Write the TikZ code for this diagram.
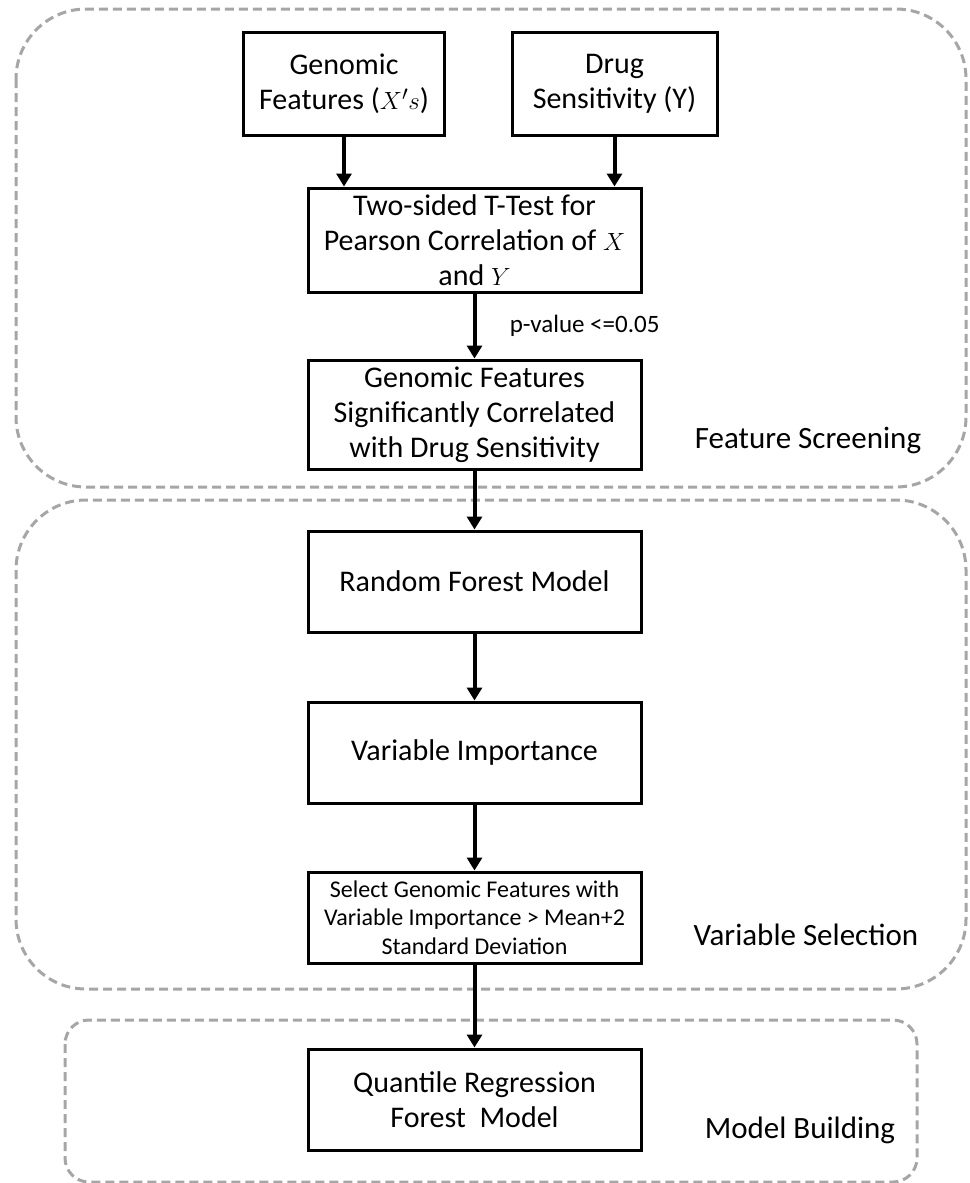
\documentclass[tikz,border=0pt]{standalone}
\usepackage{fontspec}
\setmainfont{Carlito}
\usepackage{tikz}
\usetikzlibrary{arrows.meta}

\begin{document}
\begin{tikzpicture}[x=1pt, y=-1pt,
  box/.style={draw, line width=3pt, inner sep=0pt, minimum width=333pt, minimum height=101pt,
    align=center, font=\fontsize{30}{35}\selectfont},
  region/.style={draw=black!35, line width=3pt, dash pattern=on 9pt off 5pt},
  lbl/.style={font=\fontsize{31}{36}\selectfont},
  arr/.style={line width=4pt, -{Triangle[length=13pt,width=15pt]}}]
  \useasboundingbox (0,0) rectangle (969,1183);

  % stages
  \draw[region, rounded corners=70pt] (16,9) rectangle (966,487);
  \draw[region, rounded corners=70pt] (16,500) rectangle (966,989);
  \draw[region, rounded corners=24pt] (65,1020) rectangle (917,1182);

  \node[lbl] (fs) at (808,440) {Feature Screening};
  \node[lbl] (vs) at (806,935) {Variable Selection};
  \node[lbl] (mb) at (800,1130) {Model Building};

  % steps
  \node[box, minimum width=201pt, minimum height=103pt] (gen) at (344,83.5) {Genomic\\Features ($X's$)};
  \node[box, minimum width=205pt, minimum height=103pt] (drug) at (614.5,83.5) {Drug\\Sensitivity (Y)};
  \node[box, minimum height=104pt] (ttest) at (474.5,240) {Two-sided T-Test for\\Pearson Correlation of $X$\\and $Y$};
  \node[box, minimum height=109pt] (sig) at (474.5,414.5) {Genomic Features\\Significantly Correlated\\with Drug Sensitivity};
  \node[box] (rf) at (474.5,581.5) {Random Forest Model};
  \node[box] (vi) at (474.5,752.5) {Variable Importance};
  \node[box, minimum height=91pt, font=\fontsize{24}{28.5}\selectfont] (sel) at (474.5,917.5)
    {Select Genomic Features with\\Variable Importance > Mean+2\\Standard Deviation};
  \node[box] (qrf) at (474.5,1099.5) {Quantile Regression\\Forest\ \ Model};

  \path[arr]
  (gen) edge (gen.south |- ttest.north)
  (drug) edge (drug.south |- ttest.north)
  (ttest) edge node [right=30pt, font=\fontsize{25}{30}\selectfont] {p-value <=0.05} (sig)
  (sig) edge (rf)
  (rf) edge (vi)
  (vi) edge (sel)
  (sel) edge (qrf)
  ;
\end{tikzpicture}
\end{document}
